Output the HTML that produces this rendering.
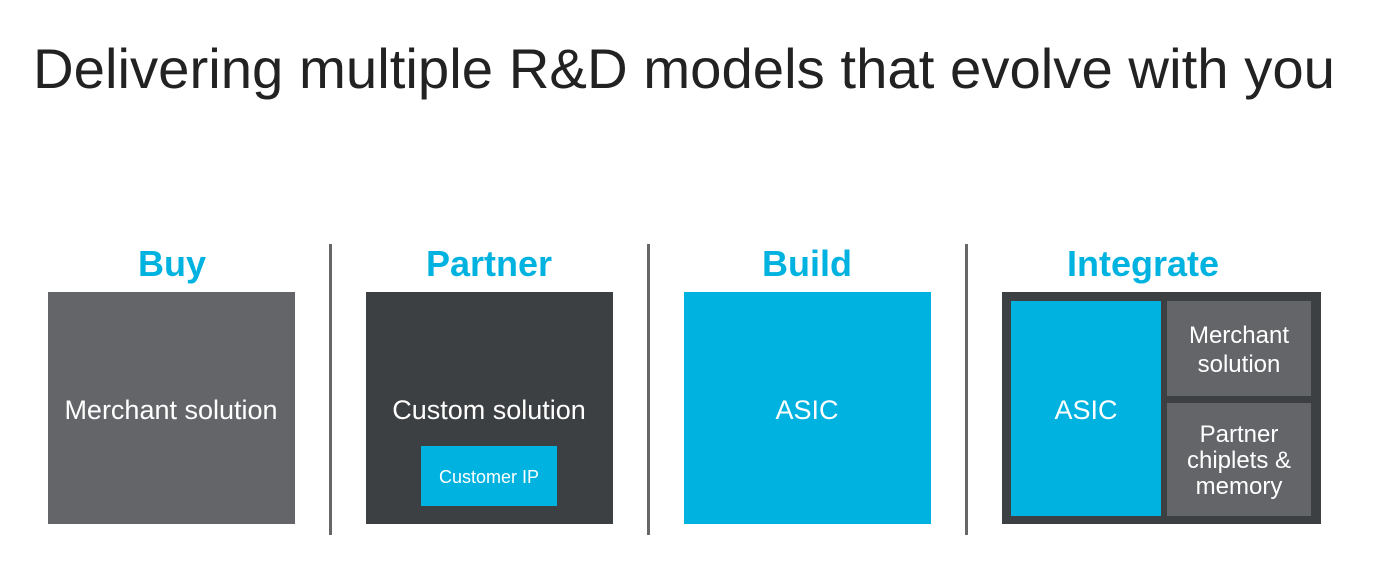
<!DOCTYPE html>
<html><head><meta charset="utf-8"><style>
html,body{margin:0;padding:0;background:#fff;width:1395px;height:574px;overflow:hidden}
svg{display:block}
text{font-family:"Liberation Sans",Arial,sans-serif}
</style></head><body>
<svg width="1395" height="574" viewBox="0 0 1395 574" xmlns="http://www.w3.org/2000/svg">
<text x="33" y="88" font-size="56" fill="#222" textLength="1302" lengthAdjust="spacingAndGlyphs">Delivering multiple R&amp;D models that evolve with you</text>

<g font-weight="bold" font-size="36" fill="#00b2e0" text-anchor="middle">
<text x="172" y="276">Buy</text>
<text x="489" y="276">Partner</text>
<text x="807" y="276">Build</text>
<text x="1143" y="276">Integrate</text>
</g>

<g fill="#666769">
<rect x="329" y="244" width="3" height="291"/>
<rect x="647" y="244" width="3" height="291"/>
<rect x="965" y="244" width="3" height="291"/>
</g>

<rect x="48" y="292" width="247" height="232" fill="#636569"/>
<rect x="366" y="292" width="247" height="232" fill="#3d4043"/>
<rect x="421" y="446" width="136" height="60" fill="#00b2e0"/>
<rect x="684" y="292" width="247" height="232" fill="#00b2e0"/>

<rect x="1002" y="292" width="319" height="232" fill="#3d4043"/>
<rect x="1011" y="301" width="150" height="215" fill="#00b2e0"/>
<rect x="1167" y="301" width="144" height="95" fill="#636569"/>
<rect x="1167" y="403" width="144" height="113" fill="#636569"/>

<g fill="#fff" text-anchor="middle" font-size="27">
<text x="171" y="419">Merchant solution</text>
<text x="489" y="419">Custom solution</text>
<text x="489" y="483" font-size="18">Customer IP</text>
<text x="807" y="419">ASIC</text>
<text x="1086" y="419">ASIC</text>
<text x="1239" y="343" font-size="24">Merchant</text>
<text x="1239" y="372" font-size="24">solution</text>
<text x="1239" y="442" font-size="24">Partner</text>
<text x="1239" y="468" font-size="24">chiplets &amp;</text>
<text x="1239" y="494" font-size="24">memory</text>
</g>
</svg>
</body></html>
